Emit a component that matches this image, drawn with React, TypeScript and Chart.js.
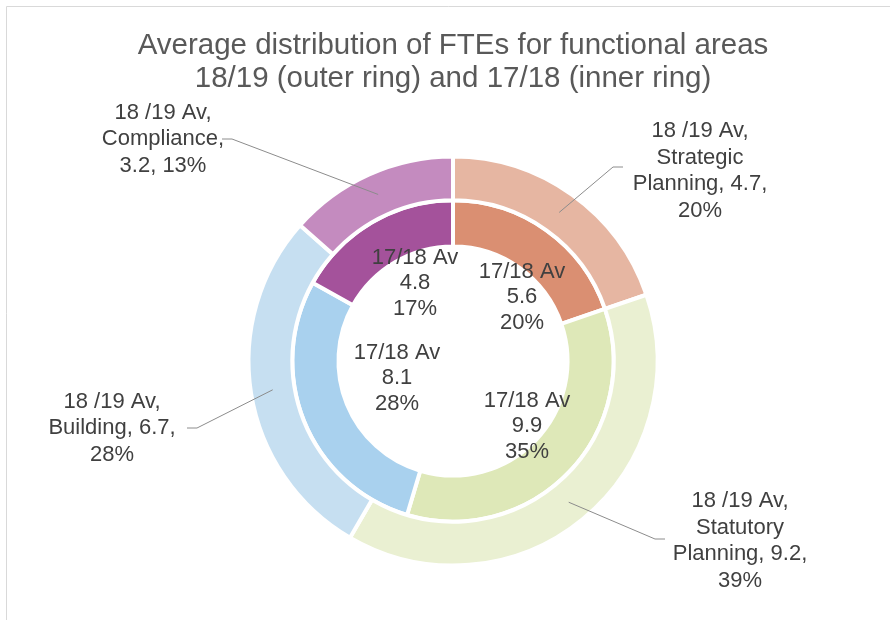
import React, { useEffect, useRef } from "react";
import { Chart, registerables } from "chart.js";

Chart.register(...registerables);

const categories = ["Strategic Planning", "Statutory Planning", "Building", "Compliance"];
const outerSeriesName = "18 /19 Av";
const innerSeriesName = "17/18 Av";
const outerValues = [4.7, 9.2, 6.7, 3.2];
const innerValues = [5.6, 9.9, 8.08, 4.8];
const outerColors = ["#E6B6A2", "#EAF0D2", "#C6DFF1", "#C48BBF"];
const innerColors = ["#DA8F72", "#DEE8B8", "#A9D1EE", "#A4529B"];
const titleLines = [
  "Average distribution of FTEs for functional areas",
  "18/19 (outer ring) and 17/18 (inner ring)",
];

// label placement: offsets (px) from the ring centre
const outerLabelText = [
  [247, -190],
  [287, 180],
  [-341, 67],
  [-290, -222],
];
const outerLabelElbow = [
  [160, -194],
  [202, 178],
  [-256, 67],
  [-221, -222],
];
const innerLabelText = [
  [69, -64],
  [74, 65],
  [-56, 17],
  [-38, -78],
];

const FONT = '"Liberation Sans", Arial, sans-serif';

function sum(a: number[]) {
  return a.reduce((s, v) => s + v, 0);
}

function wrap(ctx: CanvasRenderingContext2D, text: string, maxW: number) {
  const words = text.split(" ");
  const lines: string[] = [];
  let cur = "";
  for (const w of words) {
    const t = cur ? cur + " " + w : w;
    if (cur && ctx.measureText(t).width > maxW) {
      lines.push(cur);
      cur = w;
    } else {
      cur = t;
    }
  }
  if (cur) lines.push(cur);
  return lines;
}

const framePlugin = {
  id: "frame",
  beforeDraw(chart: any) {
    const ctx = chart.ctx;
    ctx.save();
    ctx.strokeStyle = "#D9D9D9";
    ctx.lineWidth = 1;
    ctx.beginPath();
    ctx.moveTo(6.5, 620);
    ctx.lineTo(6.5, 6.5);
    ctx.lineTo(890, 6.5);
    ctx.stroke();
    ctx.restore();
  },
};

const labelPlugin = {
  id: "ringLabels",
  afterDatasetsDraw(chart: any) {
    const ctx: CanvasRenderingContext2D = chart.ctx;
    const outerMeta = chart.getDatasetMeta(0);
    const innerMeta = chart.getDatasetMeta(1);
    const outerTotal = sum(outerValues);
    const innerTotal = sum(innerValues);
    ctx.save();
    ctx.font = `22px ${FONT}`;
    ctx.textAlign = "center";
    ctx.textBaseline = "middle";

    outerMeta.data.forEach((arc: any, i: number) => {
      const cx = arc.x;
      const cy = arc.y;
      const mid = arc.getCenterPoint();
      const [ex, ey] = outerLabelElbow[i];
      const [tx, ty] = outerLabelText[i];
      const dir = tx > ex ? 1 : -1;
      ctx.strokeStyle = "#8C8C8C";
      ctx.lineWidth = 1;
      ctx.beginPath();
      ctx.moveTo(mid.x, mid.y);
      ctx.lineTo(cx + ex, cy + ey);
      ctx.lineTo(cx + ex + dir * 10, cy + ey);
      ctx.stroke();

      const pct = Math.round((outerValues[i] / outerTotal) * 100);
      const text = `${outerSeriesName}, ${categories[i]}, ${outerValues[i].toFixed(1)}, ${pct}%`;
      const lines = wrap(ctx, text, 150);
      const lh = 26.5;
      ctx.fillStyle = "#404040";
      lines.forEach((ln, k) => {
        ctx.fillText(ln, cx + tx, cy + ty + (k - (lines.length - 1) / 2) * lh);
      });
    });

    innerMeta.data.forEach((arc: any, i: number) => {
      const cx = arc.x;
      const cy = arc.y;
      const [tx, ty] = innerLabelText[i];
      const pct = Math.round((innerValues[i] / innerTotal) * 100);
      const lines = [innerSeriesName, innerValues[i].toFixed(1), `${pct}%`];
      const lh = 25.5;
      ctx.fillStyle = "#404040";
      lines.forEach((ln, k) => {
        ctx.fillText(ln, cx + tx, cy + ty + (k - (lines.length - 1) / 2) * lh);
      });
    });
    ctx.restore();
  },
};

export default function App() {
  const ref = useRef<HTMLCanvasElement>(null);

  useEffect(() => {
    if (!ref.current) return;
    const chart = new Chart(ref.current, {
      type: "doughnut",
      data: {
        labels: categories,
        datasets: [
          {
            label: outerSeriesName,
            data: outerValues,
            backgroundColor: outerColors,
            borderColor: "#FFFFFF",
            borderWidth: 4,
            weight: 0.95,
          },
          {
            label: innerSeriesName,
            data: innerValues,
            backgroundColor: innerColors,
            borderColor: "#FFFFFF",
            borderWidth: 4,
            weight: 1,
          },
        ],
      },
      options: {
        responsive: false,
        animation: false,
        cutout: "56%",
        events: [],
        layout: { padding: { left: 40, right: 24, top: 0, bottom: 52.5 } },
        plugins: {
          legend: { display: false },
          tooltip: { enabled: false },
          title: {
            display: true,
            text: titleLines,
            color: "#595959",
            font: { family: FONT, size: 29.5, weight: "normal", lineHeight: 33 / 29.5 },
            padding: { top: 29.5, bottom: 59 },
          },
        },
      },
      plugins: [framePlugin, labelPlugin],
    } as any);
    return () => chart.destroy();
  }, []);

  return (
    <div style={{ position: "absolute", left: 0, top: 0, width: 890, height: 620, background: "#FFFFFF" }}>
      <canvas ref={ref} width={890} height={620} style={{ display: "block" }} />
    </div>
  );
}
